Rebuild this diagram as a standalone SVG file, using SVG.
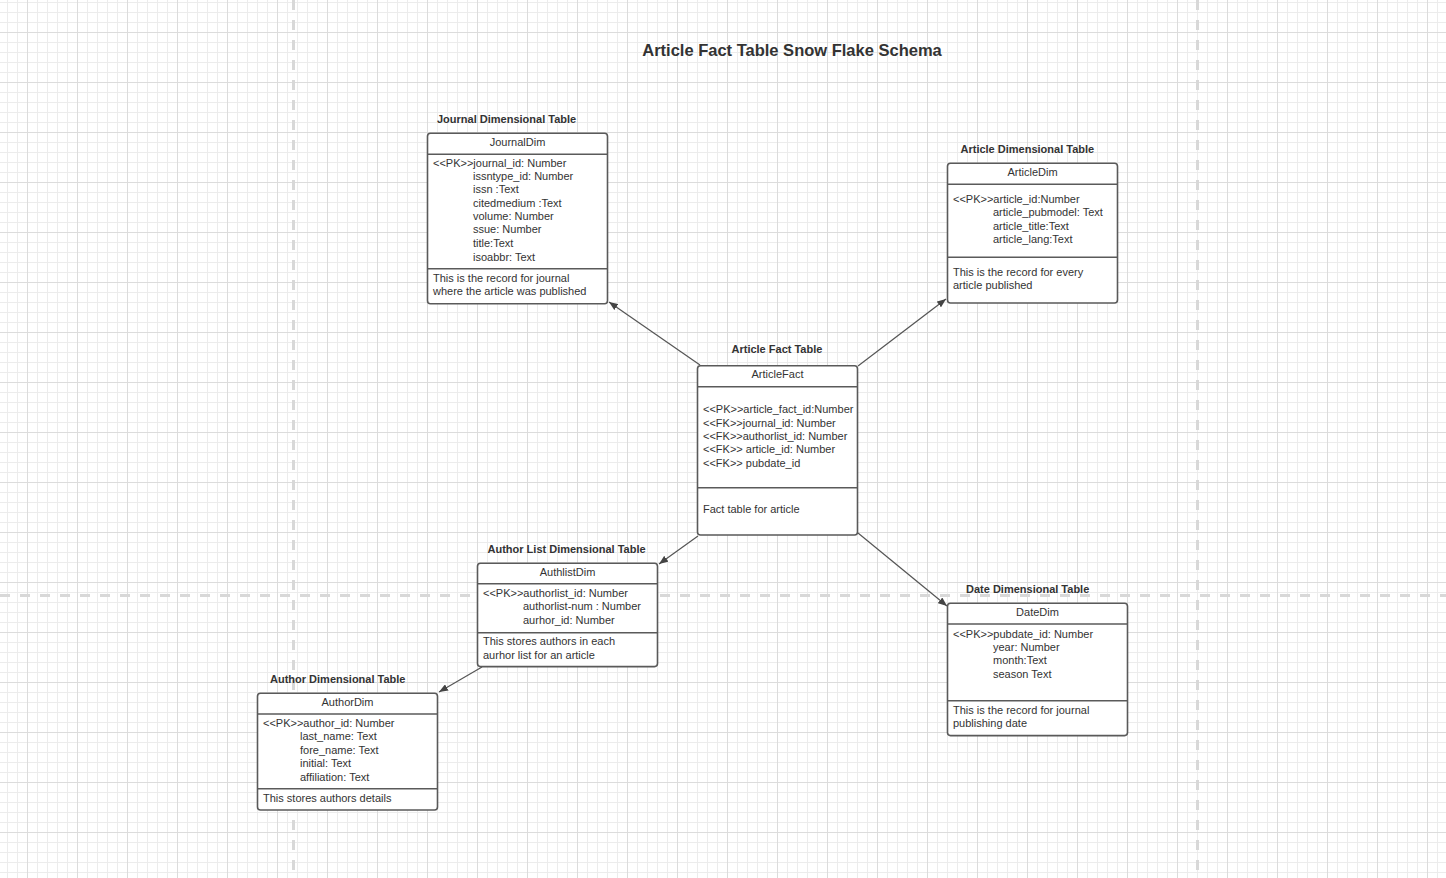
<svg xmlns="http://www.w3.org/2000/svg" width="1446" height="878" viewBox="0 0 1446 878">
<style>
text{font-family:"Liberation Sans",Arial,sans-serif;fill:#333;}
.t{font-size:11px;font-weight:bold;}
.h{font-size:11px;text-anchor:middle;}
.b{font-size:11px;}
.title{font-size:16.5px;font-weight:bold;text-anchor:middle;}
.box{fill:#fff;stroke:#5a5a5a;stroke-width:1.6;}
.sep{stroke:#5a5a5a;stroke-width:1.6;}
.page{stroke:#d8d8d8;stroke-width:3;stroke-dasharray:10 10;fill:none;}
.conn{stroke:#555;stroke-width:1.2;fill:none;marker-end:url(#arr);}
</style>
<defs>
<pattern id="grid" x="7" y="2" width="50" height="50" patternUnits="userSpaceOnUse">
<rect width="50" height="50" fill="#fff"/>
<g fill="#ececec">
<rect x="0" y="0" width="1" height="50"/><rect x="10" y="0" width="1" height="50"/><rect x="30" y="0" width="1" height="50"/><rect x="40" y="0" width="1" height="50"/>
<rect x="0" y="0" width="50" height="1"/><rect x="0" y="10" width="50" height="1"/><rect x="0" y="20" width="50" height="1"/><rect x="0" y="40" width="50" height="1"/>
</g>
<g fill="#dcdcdc">
<rect x="20" y="0" width="1" height="50"/>
<rect x="0" y="30" width="50" height="1"/>
</g>
</pattern>
<marker id="arr" viewBox="0 0 10 8" refX="10" refY="4" markerWidth="9" markerHeight="7.2" markerUnits="userSpaceOnUse" orient="auto">
<path d="M0,0 L10,4 L0,8 z" fill="#444"/>
</marker>
</defs>
<rect width="1446" height="878" fill="url(#grid)"/>
<g id="page-breaks">
<line class="page" x1="293.5" y1="0" x2="293.5" y2="878"/>
<line class="page" x1="1197.5" y1="0" x2="1197.5" y2="878"/>
<line class="page" x1="0" y1="595.5" x2="1446" y2="595.5"/>
</g>
<text class="title" x="792" y="56">Article Fact Table Snow Flake Schema</text>
<g id="connectors">
<line class="conn" x1="700" y1="365" x2="609" y2="302"/>
<line class="conn" x1="858" y1="366" x2="946" y2="299"/>
<line class="conn" x1="698" y1="536" x2="659" y2="564"/>
<line class="conn" x1="858" y1="533" x2="947" y2="606"/>
<line class="conn" x1="482" y1="667" x2="439" y2="692"/>
</g>
<g id="JournalDim">
<text class="t" x="437" y="122.5">Journal Dimensional Table</text>
<rect class="box" x="427.5" y="133.3" width="180" height="170.5" rx="3"/>
<line class="sep" x1="427.5" y1="154.3" x2="607.5" y2="154.3"/>
<line class="sep" x1="427.5" y1="268.8" x2="607.5" y2="268.8"/>
<text class="h" x="517.5" y="146">JournalDim</text>
<text class="b" x="433" y="166.7">&lt;&lt;PK&gt;&gt;journal_id: Number</text>
<text class="b" x="473" y="180">issntype_id: Number</text>
<text class="b" x="473" y="193.3">issn :Text</text>
<text class="b" x="473" y="206.7">citedmedium :Text</text>
<text class="b" x="473" y="220">volume: Number</text>
<text class="b" x="473" y="233.3">ssue: Number</text>
<text class="b" x="473" y="246.7">title:Text</text>
<text class="b" x="473" y="260.5">isoabbr: Text</text>
<text class="b" x="433" y="281.7">This is the record for journal</text>
<text class="b" x="433" y="295.3">where the article was published</text>
</g>
<g id="ArticleDim">
<text class="t" x="960.5" y="152.5">Article Dimensional Table</text>
<rect class="box" x="947.5" y="163.3" width="170" height="139.7" rx="3"/>
<line class="sep" x1="947.5" y1="184.3" x2="1117.5" y2="184.3"/>
<line class="sep" x1="947.5" y1="257.3" x2="1117.5" y2="257.3"/>
<text class="h" x="1032.5" y="176">ArticleDim</text>
<text class="b" x="953" y="202.7">&lt;&lt;PK&gt;&gt;article_id:Number</text>
<text class="b" x="993" y="216">article_pubmodel: Text</text>
<text class="b" x="993" y="229.5">article_title:Text</text>
<text class="b" x="993" y="242.5">article_lang:Text</text>
<text class="b" x="953" y="276">This is the record for every</text>
<text class="b" x="953" y="289">article published</text>
</g>
<g id="ArticleFact">
<text class="t" x="731.5" y="352.5">Article Fact Table</text>
<rect class="box" x="697.5" y="365.7" width="160" height="169.3" rx="3"/>
<line class="sep" x1="697.5" y1="386.7" x2="857.5" y2="386.7"/>
<line class="sep" x1="697.5" y1="487.7" x2="857.5" y2="487.7"/>
<text class="h" x="777.5" y="378">ArticleFact</text>
<text class="b" x="703" y="412.5">&lt;&lt;PK&gt;&gt;article_fact_id:Number</text>
<text class="b" x="703" y="426.5">&lt;&lt;FK&gt;&gt;journal_id: Number</text>
<text class="b" x="703" y="439.5">&lt;&lt;FK&gt;&gt;authorlist_id: Number</text>
<text class="b" x="703" y="452.5">&lt;&lt;FK&gt;&gt; article_id: Number</text>
<text class="b" x="703" y="466.5">&lt;&lt;FK&gt;&gt; pubdate_id</text>
<text class="b" x="703" y="512.5">Fact table for article</text>
</g>
<g id="AuthlistDim">
<text class="t" x="487.5" y="552.7">Author List Dimensional Table</text>
<rect class="box" x="477.5" y="563.3" width="180" height="103.3" rx="3"/>
<line class="sep" x1="477.5" y1="583.8" x2="657.5" y2="583.8"/>
<line class="sep" x1="477.5" y1="632.7" x2="657.5" y2="632.7"/>
<text class="h" x="567.5" y="576">AuthlistDim</text>
<text class="b" x="483" y="596.5">&lt;&lt;PK&gt;&gt;authorlist_id: Number</text>
<text class="b" x="523" y="609.8">authorlist-num : Number</text>
<text class="b" x="523" y="623.5">aurhor_id: Number</text>
<text class="b" x="483" y="644.7">This stores authors in each</text>
<text class="b" x="483" y="658.5">aurhor list for an article</text>
</g>
<g id="AuthorDim">
<text class="t" x="270" y="682.7">Author Dimensional Table</text>
<rect class="box" x="257.5" y="693.3" width="180" height="116.7" rx="3"/>
<line class="sep" x1="257.5" y1="714" x2="437.5" y2="714"/>
<line class="sep" x1="257.5" y1="788.7" x2="437.5" y2="788.7"/>
<text class="h" x="347.5" y="706">AuthorDim</text>
<text class="b" x="263" y="726.7">&lt;&lt;PK&gt;&gt;author_id: Number</text>
<text class="b" x="300" y="739.7">last_name: Text</text>
<text class="b" x="300" y="753.5">fore_name: Text</text>
<text class="b" x="300" y="766.7">initial: Text</text>
<text class="b" x="300" y="780.7">affiliation: Text</text>
<text class="b" x="263" y="801.7">This stores authors details</text>
</g>
<g id="DateDim">
<text class="t" x="966" y="592.7">Date Dimensional Table</text>
<rect class="box" x="947.5" y="603.3" width="180" height="132.3" rx="3"/>
<line class="sep" x1="947.5" y1="624" x2="1127.5" y2="624"/>
<line class="sep" x1="947.5" y1="700.7" x2="1127.5" y2="700.7"/>
<text class="h" x="1037.5" y="616">DateDim</text>
<text class="b" x="953" y="637.5">&lt;&lt;PK&gt;&gt;pubdate_id: Number</text>
<text class="b" x="993" y="650.8">year: Number</text>
<text class="b" x="993" y="664">month:Text</text>
<text class="b" x="993" y="677.5">season Text</text>
<text class="b" x="953" y="713.7">This is the record for journal</text>
<text class="b" x="953" y="727.3">publishing date</text>
</g>
</svg>
